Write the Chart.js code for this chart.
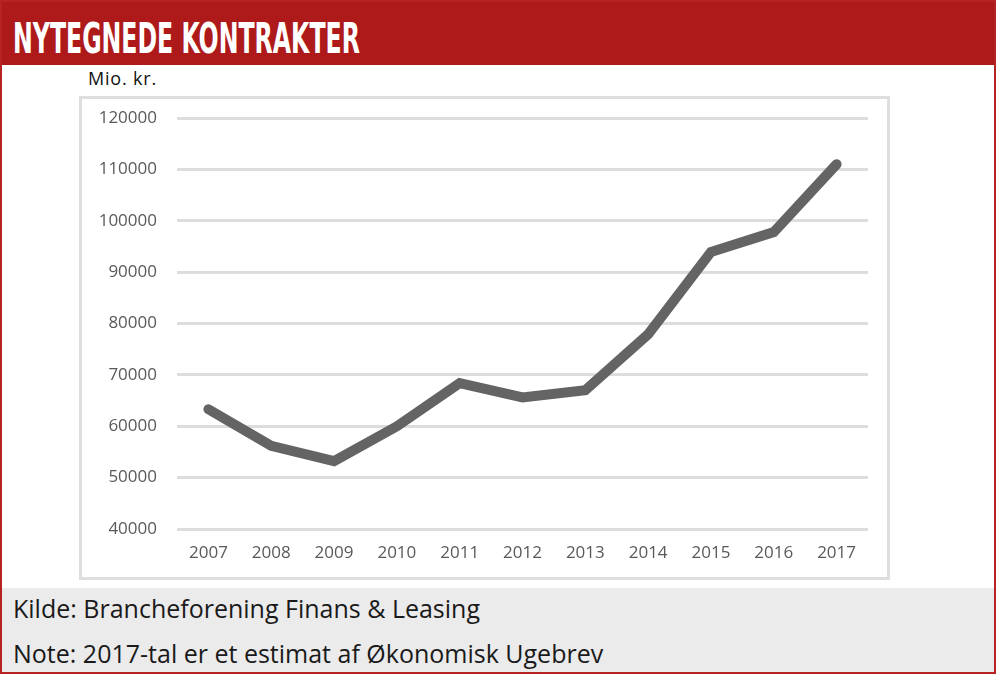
<!DOCTYPE html>
<html>
<head>
<meta charset="utf-8">
<script src="https://cdn.jsdelivr.net/npm/chart.js@4"></script>
<style>
  html, body { margin: 0; padding: 0; background: #fff; }
  #frame {
    position: relative; width: 996px; height: 674px; box-sizing: border-box;
    border: 2px solid #b52323; overflow: hidden; background: #fff;
  }
  #header {
    position: absolute; left: 0; top: 0; width: 100%; height: 63px; background: #ae1a1a;
  }
  #title {
    position: absolute; left: 11px; top: 15px; color: #fff; white-space: nowrap;
    font-family: "Liberation Sans Narrow", "DejaVu Sans Condensed", sans-serif;
    font-weight: bold; font-size: 43px; line-height: 43px; transform-origin: 0 0;
  }
  #unit {
    position: absolute; left: 86px; top: 64px; font-family: "Open Sans", sans-serif;
    font-size: 18px; letter-spacing: 0.8px; color: #111;
  }
  #box {
    position: absolute; left: 77px; top: 94px; width: 811px; height: 484px;
    box-sizing: border-box; border: 3px solid #dedede;
  }
  #chartWrap { position: absolute; left: 0; top: 0; width: 805px; height: 478px; }
  #footer {
    position: absolute; left: 0; top: 586px; width: 100%; height: 90px; background: #ebebeb;
    font-family: "Open Sans", sans-serif; font-size: 25px; color: #1a1a1a;
  }
  #footer div { position: absolute; left: 11px; white-space: nowrap; }
</style>
</head>
<body>
<div id="frame">
  <div id="header"><span id="title">NYTEGNEDE KONTRAKTER</span></div>
  <div id="unit">Mio. kr.</div>
  <div id="box"><div id="chartWrap"><canvas id="lineChart"></canvas></div></div>
  <div id="footer">
    <div style="top: 3px;">Kilde: Brancheforening Finans &amp; Leasing</div>
    <div style="top: 48px;">Note: 2017-tal er et estimat af Økonomisk Ugebrev</div>
  </div>
</div>
<script>
// data (mio. kr.)
const years = ['2007', '2008', '2009', '2010', '2011', '2012', '2013', '2014', '2015', '2016', '2017'];
const contracts = [63300, 56200, 53200, 60000, 68400, 65600, 67000, 77900, 93900, 97800, 111000];
const yTicks = [40000, 50000, 60000, 70000, 80000, 90000, 100000, 110000, 120000];

// squeeze the title to the width of the original condensed headline
const title = document.getElementById('title');
title.style.transform = 'scaleX(' + (347 / title.offsetWidth) + ')';

const ctx = document.getElementById('lineChart').getContext('2d');
const lineChart = new Chart(ctx, {
    type: 'line',
    data: {
      labels: years,
      datasets: [{
        label: 'Nytegnede kontrakter',
        data: contracts,
        borderColor: '#646464',
        borderWidth: 10,
        borderCapStyle: 'round',
        borderJoinStyle: 'miter',
        pointRadius: 0,
        tension: 0,
        fill: false
      }]
    },
    options: {
      responsive: true,
      maintainAspectRatio: false,
      animation: false,
      layout: {
        padding: {top: 19, right: 19, bottom: 0, left: 0}
      },
      plugins: {
        legend: {display: false},
        tooltip: {enabled: false},
        title: {display: false}
      },
      scales: {
        x: {
          offset: true,
          grid: {display: false},
          border: {display: false},
          ticks: {
            color: '#595959',
            padding: 6,
            font: {family: 'Open Sans', size: 17}
          },
          afterFit: function(scale) { scale.height = 48; }
        },
        y: {
          min: 40000,
          max: 120000,
          afterBuildTicks: function(scale) {
            scale.ticks = yTicks.map(v => ({value: v}));
          },
          grid: {
            color: '#dddddd',
            lineWidth: 3,
            drawTicks: false
          },
          border: {display: false},
          ticks: {
            color: '#595959',
            padding: 20,
            font: {family: 'Open Sans', size: 17},
            callback: function(value) { return String(value); }
          },
          afterFit: function(scale) {
            scale.width = 95;
            scale.paddingTop = 0;
            scale.paddingBottom = 0;
          }
        }
      }
    }
  });
</script>
</body>
</html>
